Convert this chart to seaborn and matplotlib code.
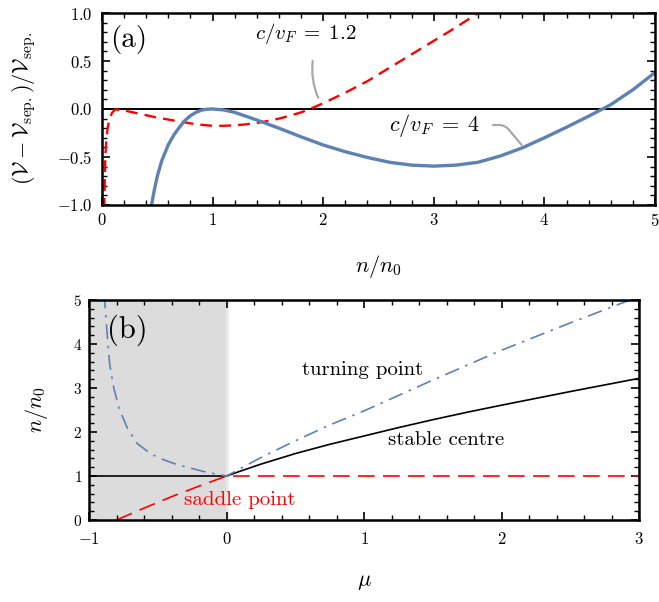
import numpy as np
import pandas as pd
import matplotlib
matplotlib.use("Agg")
import matplotlib.pyplot as plt
from matplotlib.ticker import MultipleLocator
import seaborn as sns

# panel (a): potential curves
n_red = [0.02, 0.025, 0.03, 0.04, 0.055, 0.07, 0.09, 0.12, 0.2, 0.3, 0.4, 0.5, 0.6, 0.7,
         0.8, 0.9, 1.0, 1.1, 1.2, 1.3, 1.4, 1.5, 1.6, 1.7, 1.8, 1.88, 2.0, 2.2, 2.4, 2.6,
         2.8, 3.0, 3.2, 3.4]
v_red = [-1.05, -0.75, -0.5, -0.3, -0.17, -0.1, -0.04, -0.005, -0.015, -0.04, -0.065, -0.09,
         -0.11, -0.13, -0.15, -0.165, -0.175, -0.175, -0.17, -0.16, -0.145, -0.125, -0.1,
         -0.07, -0.035, 0.0, 0.06, 0.17, 0.29, 0.43, 0.57, 0.71, 0.85, 1.0]

n_blue = [0.44, 0.47, 0.5, 0.54, 0.6, 0.65, 0.7, 0.75, 0.8, 0.85, 0.9, 0.95, 1.0, 1.1, 1.2,
          1.4, 1.6, 1.8, 2.0, 2.2, 2.4, 2.6, 2.8, 3.0, 3.2, 3.4, 3.6, 3.8, 4.0, 4.2, 4.4,
          4.6, 4.8, 5.0]
v_blue = [-1.05, -0.86, -0.7, -0.54, -0.37, -0.27, -0.19, -0.12, -0.07, -0.035, -0.012,
          -0.002, 0.0, -0.01, -0.035, -0.115, -0.2, -0.29, -0.375, -0.445, -0.505, -0.555,
          -0.585, -0.595, -0.585, -0.555, -0.49, -0.405, -0.3, -0.19, -0.075, 0.045, 0.2, 0.38]

# panel (b): fixed points vs mu
mu_stable = [-1.0, 0.0, 0.1, 0.25, 0.5, 0.75, 1.0, 1.25, 1.5, 1.75, 2.0, 2.5, 3.0]
n_stable = [1.0, 1.0, 1.11, 1.27, 1.51, 1.72, 1.91, 2.1, 2.28, 2.45, 2.61, 2.92, 3.22]

mu_saddle = [-0.8, -0.6, -0.4, -0.2, 0.0, 3.0]
n_saddle = [0.0, 0.27, 0.53, 0.77, 1.0, 1.0]

mu_turn = [-0.89, -0.87, -0.85, -0.82, -0.78, -0.72, -0.65, -0.55, -0.45, -0.35, -0.25,
           -0.15, -0.05, 0.0, 0.25, 0.5, 0.75, 1.0, 1.5, 2.0, 2.5, 3.0]
n_turn = [5.15, 4.3, 3.55, 3.0, 2.52, 2.08, 1.74, 1.5, 1.36, 1.25, 1.17, 1.09, 1.03, 1.0,
          1.42, 1.8, 2.16, 2.48, 3.18, 3.86, 4.48, 5.08]

blue = "#5e81b5"
red = "#ff0000"

sns.set_theme(style="ticks")
plt.rcParams["font.family"] = ["cmr10", "DejaVu Serif"]
plt.rcParams["mathtext.fontset"] = "cm"
plt.rcParams["axes.formatter.use_mathtext"] = True
plt.rcParams["axes.unicode_minus"] = True
for k in ["text.color", "axes.labelcolor", "xtick.color", "ytick.color", "axes.edgecolor"]:
    plt.rcParams[k] = "black"

fig = plt.figure(figsize=(6.59, 6.02), dpi=100)
ax1 = fig.add_axes([0.1548, 0.6595, 0.8391, 0.3189])
ax2 = fig.add_axes([0.1351, 0.1362, 0.8346, 0.3654])

#(a)
ax1.axhline(0, color="black", lw=1.4, zorder=1)
sns.lineplot(x=n_red, y=v_red, ax=ax1, color=red, lw=1.7, sort=False)
ax1.lines[-1].set_dashes((5, 3))
sns.lineplot(x=n_blue, y=v_blue, ax=ax1, color=blue, lw=2.4, sort=False)
ax1.set_xlim(0, 5)
ax1.set_ylim(-1, 1)
ax1.xaxis.set_major_locator(MultipleLocator(1))
ax1.xaxis.set_minor_locator(MultipleLocator(0.2))
ax1.yaxis.set_major_locator(MultipleLocator(0.5))
ax1.yaxis.set_minor_locator(MultipleLocator(0.1))
ax1.yaxis.set_major_formatter(matplotlib.ticker.FormatStrFormatter(r"$%.1f$"))
ax1.xaxis.set_major_formatter(matplotlib.ticker.FormatStrFormatter(r"$%d$"))
ax1.set_xlabel(r"$n/n_0$", fontsize=16)
ax1.set_ylabel(r"$(\mathcal{V}-\mathcal{V}_{\rm sep.})/\mathcal{V}_{\rm sep.}$", fontsize=16)
ax1.xaxis.set_label_coords(0.5, -0.25)
ax1.yaxis.set_label_coords(-0.115, 0.5)
ax1.tick_params(axis="x", pad=5)
ax1.tick_params(axis="y", pad=7)
ax1.text(0.015, 0.935, "(a)", transform=ax1.transAxes, fontsize=21, va="top", ha="left")

ax1.text(1.845, 0.79, r"$c/v_F\;=\;1.2$", fontsize=15, ha="center", va="center")
ax1.annotate("", xy=(1.965, 0.09), xytext=(1.908, 0.53),
             arrowprops=dict(arrowstyle="-", color="#a8a8a8", lw=1.6,
                             connectionstyle="arc3,rad=0.15"))
ax1.text(3.42, -0.17, r"$c/v_F\;=\;4$", fontsize=16, ha="right", va="center")
ax1.annotate("", xy=(3.81, -0.396), xytext=(3.51, -0.167),
             arrowprops=dict(arrowstyle="-", color="#a8a8a8", lw=1.6,
                             connectionstyle="angle,angleA=0,angleB=-50,rad=6"))

#(b)
ax2.axvspan(-1, 0, color="#dcdcdc", lw=0, zorder=0)
ax2.axvline(0, color="#ebebeb", lw=2, zorder=0.5)
sns.lineplot(x=mu_stable, y=n_stable, ax=ax2, color="black", lw=1.2, sort=False)
sns.lineplot(x=mu_saddle, y=n_saddle, ax=ax2, color=red, lw=1.2, sort=False)
ax2.lines[-1].set_dashes((10, 5))
sns.lineplot(x=mu_turn, y=n_turn, ax=ax2, color=blue, lw=1.2, sort=False)
ax2.lines[-1].set_dashes((9, 4, 1.5, 4))
ax2.set_xlim(-1, 3)
ax2.set_ylim(0, 5)
ax2.xaxis.set_major_locator(MultipleLocator(1))
ax2.xaxis.set_minor_locator(MultipleLocator(0.2))
ax2.yaxis.set_major_locator(MultipleLocator(1))
ax2.yaxis.set_minor_locator(MultipleLocator(0.2))
ax2.xaxis.set_major_formatter(matplotlib.ticker.FormatStrFormatter(r"$%d$"))
ax2.yaxis.set_major_formatter(matplotlib.ticker.FormatStrFormatter(r"$%d$"))
ax2.set_xlabel(r"$\mu$", fontsize=16)
ax2.set_ylabel(r"$n/n_0$", fontsize=16)
ax2.xaxis.set_label_coords(0.5, -0.24)
ax2.yaxis.set_label_coords(-0.071, 0.5)
ax2.tick_params(axis="x", pad=8)
ax2.tick_params(axis="y", pad=5, labelsize=11)
ax2.text(0.033, 0.935, "(b)", transform=ax2.transAxes, fontsize=22, va="top", ha="left")
ax2.text(0.99, 3.41, "turning point", fontsize=15, ha="center", va="center")
ax2.text(1.60, 1.82, "stable centre", fontsize=15, ha="center", va="center")
ax2.text(0.098, 0.45, "saddle point", fontsize=15, ha="center", va="center", color=red)

for ax in (ax1, ax2):
    if ax.get_legend():
        ax.get_legend().remove()
    for s in ax.spines.values():
        s.set_linewidth(1.8)
        s.set_edgecolor("black")
        s.set_visible(True)
        s.set_zorder(5)
    ax.tick_params(which="both", direction="in", top=True, right=True, colors="black")
    ax.tick_params(which="major", length=6, width=1.2)
    ax.tick_params(which="minor", length=3.5, width=1.0)
ax1.tick_params(axis="both", labelsize=12)
ax2.tick_params(axis="x", labelsize=12)

fig.savefig("out.png", dpi=100)
